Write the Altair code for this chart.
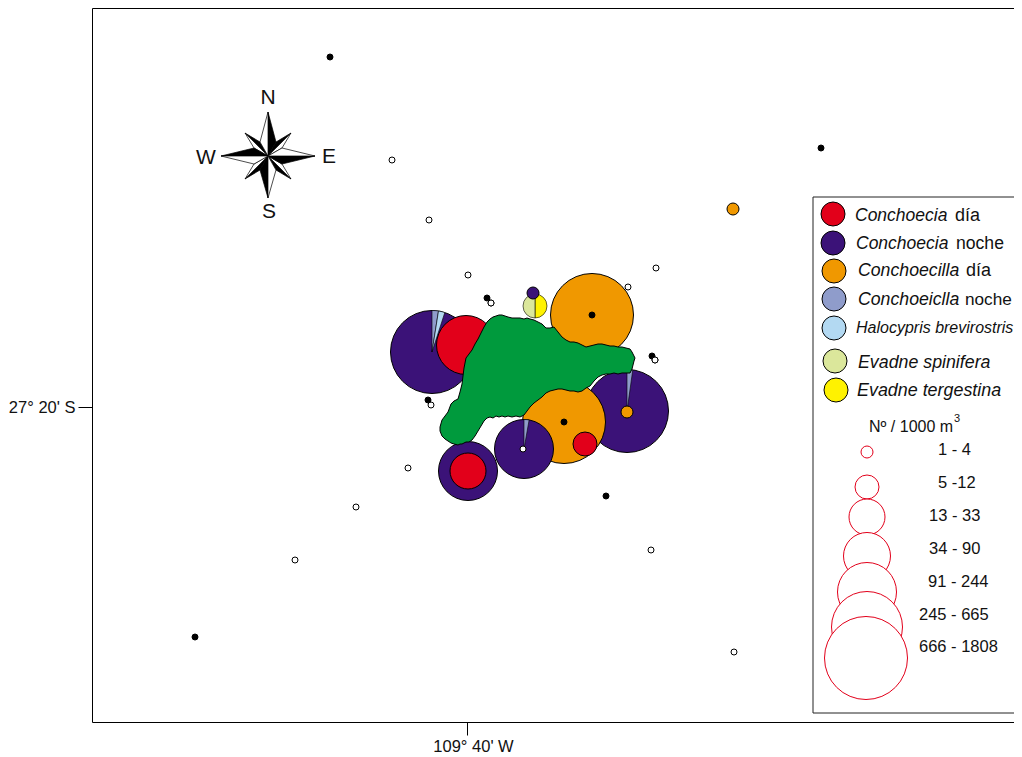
import altair as alt
import pandas as pd

# ---- species and abundance classes
species = ["Conchoecia día", "Conchoecia noche", "Conchoecilla día", "Conchoeiclla noche",
           "Halocypris brevirostris", "Evadne spinifera", "Evadne tergestina"]
species_colors = ["#E2001A", "#3B1278", "#F09800", "#8F9CCB", "#B3D9F2", "#DBE79B", "#FFF200"]
classes = ["1 - 4", "5 -12", "13 - 33", "34 - 90", "91 - 244", "245 - 665", "666 - 1808"]
class_diam = [12, 24, 36, 47, 59, 71, 83]

# ---- stations (map position)
black_x = [330, 821, 487, 652, 428, 606, 195]
black_y = [57, 148, 298, 356, 400, 496, 637]
white_x = [392, 429, 468, 491, 628, 656, 655, 431, 408, 356, 295, 651, 734]
white_y = [160, 220, 275, 303, 287, 268, 360, 405, 468, 507, 560, 550, 652]
inner_black_x = [592, 564]
inner_black_y = [315, 422]
inner_white_x = [523]
inner_white_y = [449]

# ---- abundance bubbles, in drawing order
bub_x = [627, 432, 466, 592, 564, 468, 468, 524, 585, 733]
bub_y = [411, 352, 345, 315, 422, 471, 471, 449, 444, 209]
bub_sp = [1, 1, 0, 2, 2, 1, 0, 1, 0, 2]
bub_cl = [6, 6, 4, 6, 6, 4, 2, 4, 1, 0]

# ---- small bubbles that lie on top of a pie
top_x = [627, 533]
top_y = [412, 293]
top_sp = [2, 1]
top_cl = [0, 0]

# ---- pie wedges: start / end degrees clockwise from north
wed_x = [432, 432, 524, 627, 535, 535]
wed_y = [352, 352, 449, 411, 306, 306]
wed_sp = [3, 4, 3, 3, 6, 5]
wed_cl = [6, 6, 4, 6, 1, 1]
wed_a0 = [0, 9, 0, 0, 0, 180]
wed_a1 = [9, 18, 10, 8, 180, 360]

# ---- island outline
isl_x = [440, 442, 445, 448, 451, 454, 458, 460, 462, 464, 466, 469, 472, 475, 478, 481, 484, 487, 490, 493,
         496, 499, 502, 505, 508, 512, 516, 520, 524, 527, 530, 534, 538, 542, 546, 550, 554, 558, 562, 566,
         570, 574, 578, 582, 586, 590, 594, 598, 602, 606, 610, 614, 618, 622, 626, 630, 632, 634, 635]
isl_top = [427, 420, 416, 412, 404, 401, 399, 392, 384, 368, 358, 354, 350, 344, 339, 333, 327, 322, 319, 317,
           316, 315, 315, 316, 317, 318, 318, 318, 319, 318, 319, 320, 322, 324, 328, 328, 327, 332, 337, 340,
           342, 342, 343, 345, 347, 346, 345, 344, 344, 345, 346, 346, 347, 347, 348, 349, 352, 356, 358]
isl_bot = [431, 436, 439, 441, 443, 444, 445, 444, 444, 443, 442, 442, 440, 436, 431, 426, 421, 418, 417, 418,
           416, 417, 416, 417, 416, 417, 416, 417, 415, 411, 407, 403, 400, 397, 393, 391, 390, 389, 389, 390,
           391, 391, 392, 391, 388, 386, 381, 377, 375, 374, 374, 373, 374, 373, 373, 373, 369, 361, 358]

# ---- compass rose: triangles (centre, tip, shoulder)
rose_cx, rose_cy = 268, 156
rose_tip = [(23, -23), (23, -23), (23, 23), (23, 23), (-23, 23), (-23, 23), (-23, -23), (-23, -23),
            (0, -44), (0, -44), (47, 0), (47, 0), (0, 42), (0, 42), (-47, 0), (-47, 0)]
rose_sh = [(8, -14), (14, -8), (8, 14), (14, 8), (-8, 14), (-14, 8), (-8, -14), (-14, -8),
           (8, -14), (-8, -14), (14, 8), (14, -8), (-8, 14), (8, 14), (-14, -8), (-14, 8)]
rose_fill = ["black", "white"] * 8
rose_labels = ["N", "E", "S", "W"]
rose_lab_x = [268, 329, 269, 206]
rose_lab_y = [98, 157, 212, 158]

# ---- legend
box = [813, 1021, 197, 713]
sw_x = [833, 833, 834, 834, 834, 835, 836]
sw_y = [214, 243, 271, 299, 328, 361, 390]
ital_txt = ["Conchoecia", "Conchoecia", "Conchoecilla", "Conchoeiclla", "Halocypris brevirostris",
            "Evadne spinifera", "Evadne tergestina"]
ital_x = [855, 856, 858, 858, 856, 858, 857]
ital_y = [216, 244, 271, 300, 328, 363, 391]
ital_fs = [17.5, 17.5, 17.7, 17.7, 16, 17.8, 17.9]
norm_txt = ["día", "noche", "día", "noche"]
norm_x = [955, 956, 966, 965]
norm_y = [216, 244, 271, 300]
norm_fs = [18, 17.6, 18, 17.2]
cl_x = [867, 867, 867, 867, 867, 867, 866]
cl_y = [452, 487, 517, 556, 592, 627, 658]
cl_tx = [938, 938, 929, 929, 928, 919, 919]
cl_ty = [450, 483, 516, 549, 582, 615, 647]

# ---- scales / helpers
FONT = "Liberation Sans"
sx = alt.Scale(domain=[92, 1022], nice=False, zero=False)
sy = alt.Scale(domain=[722, 8], nice=False, zero=False)
fill_scale = alt.Scale(domain=species, range=species_colors)
ax_x = alt.Axis(values=[467], labelExpr="\"109° 40' W\"", domain=False, grid=False, tickSize=13,
                tickColor="black", labelFont=FONT, labelFontSize=16.5, labelColor="#111111",
                labelPadding=3, labelOffset=6, labelOverlap=False)
ax_y = alt.Axis(values=[407], labelExpr="\"27° 20' S\"", domain=False, grid=False, tickSize=14,
                tickColor="black", labelFont=FONT, labelFontSize=16.5, labelColor="#111111",
                labelPadding=3, labelOverlap=False)
X = alt.X("x:Q", scale=sx, axis=ax_x, title=None)
Y = alt.Y("y:Q", scale=sy, axis=ax_y, title=None, stack=None)
SIZE = alt.Size("s:Q", scale=None, legend=None)


def pts(xs, ys, fill, d=6):
    return alt.Chart(pd.DataFrame({"x": xs, "y": ys})).mark_point(
        filled=True, fill=fill, stroke="black", strokeWidth=1, opacity=1, size=d * d, shape="circle"
    ).encode(x=X, y=Y)


def txt(xs, ys, labels, size, style="normal", align="left"):
    return alt.Chart(pd.DataFrame({"x": xs, "y": ys, "t": labels, "fs": size})).mark_text(
        font=FONT, fontStyle=style, align=align, baseline="middle", color="#111111"
    ).encode(x=X, y=Y, text="t:N", size=alt.Size("fs:Q", scale=None, legend=None))


def bubble_layer(xs, ys, sp, cl):
    df = pd.DataFrame({"x": xs, "y": ys, "sp": [species[i] for i in sp], "s": [class_diam[i] ** 2 for i in cl]})
    return alt.Chart(df).mark_point(filled=True, stroke="black", strokeWidth=1, opacity=1, shape="circle").encode(
        x=X, y=Y,
        fill=alt.Fill("sp:N", scale=fill_scale, legend=None),
        size=SIZE,
    )


# wedges
wed_df = pd.DataFrame({"x": wed_x, "y": wed_y, "sp": [species[i] for i in wed_sp],
                       "r": [class_diam[i] / 2 for i in wed_cl], "a0": wed_a0, "a1": wed_a1})
wedges = alt.Chart(wed_df).transform_calculate(
    t0="datum.a0*PI/180", t1="datum.a1*PI/180"
).mark_arc(stroke="black", strokeWidth=0.6).encode(
    x=X, y=Y,
    theta=alt.Theta("t0:Q", scale=None),
    theta2=alt.Theta2("t1:Q"),
    radius=alt.Radius("r:Q", scale=None),
    fill=alt.Fill("sp:N", scale=fill_scale, legend=None),
)

# island
isl_df = pd.DataFrame({"x": isl_x, "y": isl_top, "y2": isl_bot})
island = alt.Chart(isl_df).mark_area(color="#009A3D", stroke="black", strokeWidth=1, opacity=1).encode(
    x=X, y=Y, y2="y2:Q"
)

# compass rose: one area per triangle
rose_layers = []
for (tx, ty), (sxx, syy), f in zip(rose_tip, rose_sh, rose_fill):
    v = sorted([(rose_cx, rose_cy), (rose_cx + tx, rose_cy + ty), (rose_cx + sxx, rose_cy + syy)])
    (x0, y0), (x1, y1), (x2, y2) = v
    if x1 == x0:
        r = [(x0, y0, y1), (x2, y2, y2)]
    elif x1 == x2:
        r = [(x0, y0, y0), (x1, y1, y2)]
    else:
        edge = y0 + (y2 - y0) * (x1 - x0) / (x2 - x0)
        r = [(x0, y0, y0), (x1, y1, edge), (x2, y2, y2)]
    d = pd.DataFrame(r, columns=["x", "y", "y2"])
    rose_layers.append(alt.Chart(d).mark_area(color=f, stroke="black", strokeWidth=0.7, opacity=1).encode(
        x=X, y=Y, y2="y2:Q"))

# legend
legbox = alt.Chart(pd.DataFrame({"x": [box[0]], "x2": [box[1]], "y": [box[2]], "y2": [box[3]]})).mark_rect(
    fill="white", stroke="#222222", strokeWidth=1
).encode(x=X, x2="x2:Q", y=Y, y2="y2:Q")

sw_df = pd.DataFrame({"x": sw_x, "y": sw_y, "sp": species, "s": [class_diam[1] ** 2] * 7})
swatches = alt.Chart(sw_df).mark_point(filled=True, stroke="black", strokeWidth=1, opacity=1, shape="circle").encode(
    x=X, y=Y,
    fill=alt.Fill("sp:N", scale=fill_scale, legend=None),
    size=SIZE,
)
cl_df = pd.DataFrame({"x": cl_x, "y": cl_y, "s": [d ** 2 for d in class_diam]})
class_circles = alt.Chart(cl_df).mark_point(
    filled=True, fill="white", stroke="#E2001A", strokeWidth=1, opacity=1, shape="circle"
).encode(x=X, y=Y, size=SIZE)

chart = alt.layer(
    pts(white_x, white_y, "white"),
    pts(black_x, black_y, "black"),
    pts([491, 655], [303, 360], "white"),
    bubble_layer(bub_x, bub_y, bub_sp, bub_cl),
    wedges,
    bubble_layer(top_x, top_y, top_sp, top_cl),
    island,
    pts(inner_black_x, inner_black_y, "black"),
    pts(inner_white_x, inner_white_y, "white"),
    *rose_layers,
    txt(rose_lab_x, rose_lab_y, rose_labels, 21, align="center"),
    legbox,
    swatches,
    txt(ital_x, ital_y, ital_txt, ital_fs, "italic"),
    txt(norm_x, norm_y, norm_txt, norm_fs),
    txt([869], [427], ["Nº / 1000 m"], 16),
    txt([954], [419], ["3"], 11),
    class_circles,
    txt(cl_tx, cl_ty, classes, 16.5),
).properties(
    width=930, height=714,
    padding={"left": 84, "top": 0, "right": -8, "bottom": 36},
    autosize=alt.AutoSizeParams(type="none"),
    background="white",
).configure_view(stroke="black", strokeWidth=1)

chart.save("out.html", embed_options={"renderer": "svg", "actions": False})
